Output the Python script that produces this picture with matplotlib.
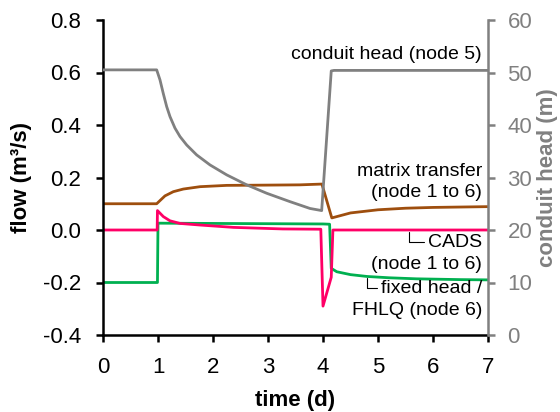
import numpy as np
import matplotlib.pyplot as plt

plt.rcParams['font.family'] = ['Liberation Sans', 'DejaVu Sans']
plt.rcParams['axes.unicode_minus'] = False

# conduit head (node 5), m  -> right axis
head_t = [0, 0.976, 1.036, 1.096, 1.158, 1.218, 1.309, 1.40, 1.521, 1.703, 1.945,
          2.249, 2.613, 2.976, 3.40, 3.764, 3.976, 4.15, 4.2, 7.0]
head_m = [50.5, 50.5, 48.6, 46.0, 43.5, 41.6, 39.4, 37.8, 36.2, 34.3, 32.4,
          30.5, 28.6, 27.0, 25.4, 24.1, 23.7, 50.3, 50.4, 50.4]

# matrix transfer (node 1 to 6), m3/s
mt_t = [0, 0.976, 1.036, 1.127, 1.279, 1.46, 1.764, 2.25, 2.98, 3.58, 3.98,
        4.16, 4.5, 5.0, 5.5, 6.0, 7.0]
mt_q = [0.1, 0.1, 0.112, 0.130, 0.146, 0.156, 0.165, 0.170, 0.171, 0.172, 0.175,
        0.046, 0.065, 0.077, 0.083, 0.086, 0.089]

# CADS (node 1 to 6)
cads_t = [0, 0.985, 0.99, 1.097, 1.218, 1.40, 1.76, 2.37, 3.27, 3.96, 4.0, 4.15, 4.18, 7.0]
cads_q = [0, 0, 0.074, 0.051, 0.035, 0.025, 0.019, 0.010, 0.004, 0.003, -0.29, -0.18, 0.0, 0.0]

# fixed head / FHLQ (node 6)
fh_t = [0, 0.99, 1.0, 2.0, 3.0, 4.0, 4.12, 4.15, 4.25, 4.5, 4.8, 5.2, 5.7, 6.5, 7.0]
fh_q = [-0.2, -0.2, 0.026, 0.025, 0.024, 0.023, 0.022, -0.146, -0.159, -0.170, -0.177, -0.182, -0.186, -0.189, -0.19]

days = [0, 1, 2, 3, 4, 5, 6, 7]
flow_ticks = [-0.4, -0.2, 0.0, 0.2, 0.4, 0.6, 0.8]
head_ticks = [0, 10, 20, 30, 40, 50, 60]

grey = '#808080'

fig = plt.figure(figsize=(5.6, 4.12), dpi=100)
ax = fig.add_axes([103/560, 1-335/412, 385/560, 315/412])
ax2 = ax.twinx()

ax.plot(fh_t, fh_q, color='#00B050', lw=2)
ax.plot(cads_t, cads_q, color='#FF0066', lw=2)
ax.plot(mt_t, mt_q, color='#9E4E0E', lw=2)
ax2.plot(head_t, head_m, color=grey, lw=2)

ax.set_xlim(0, 7)
ax.set_ylim(-0.4, 0.8)
ax2.set_ylim(0, 60)
ax.set_xticks(days)
ax.set_yticks(flow_ticks)
ax.set_yticklabels([f'{v:.1f}' for v in flow_ticks])
ax2.set_yticks(head_ticks)

for s in ['top', 'right']:
    ax.spines[s].set_visible(False)
for s in ['top', 'left', 'bottom']:
    ax2.spines[s].set_visible(False)
ax.spines['left'].set_linewidth(1.8)
ax.spines['bottom'].set_linewidth(1.8)
ax2.spines['right'].set_linewidth(1.8)
ax2.spines['right'].set_color(grey)

ax.tick_params(axis='y', direction='out', length=5, width=1.8, labelsize=16, pad=11)
ax.tick_params(axis='x', direction='out', length=5, width=1.8, labelsize=16, pad=11)
ax2.tick_params(axis='y', direction='out', length=5, width=1.8, labelsize=16, pad=9,
                colors=grey)

ax.set_ylabel('flow (m³/s)', fontsize=16, fontweight='bold')
ax.yaxis.set_label_coords(-0.185, 0.5)
ax.set_xlabel('time (d)', fontsize=16, fontweight='bold')
ax.xaxis.set_label_coords(0.5, -0.175)
ax2.set_ylabel('conduit head (m)', fontsize=16, fontweight='bold', color=grey)
ax2.yaxis.set_label_coords(1.128, 0.5)

fs = 14
ax.text(6.89, 0.667, 'conduit head (node 5)', ha='right', va='center', fontsize=fs)
ax.text(6.89, 0.221, 'matrix transfer', ha='right', va='center', fontsize=fs)
ax.text(6.89, 0.141, '(node 1 to 6)', ha='right', va='center', fontsize=fs)
leader = dict(arrowstyle='-', lw=0.8, color='black', shrinkA=1, shrinkB=0,
              connectionstyle='angle,angleA=0,angleB=90,rad=0', relpos=(0, 0.5))
ax.annotate('CADS', xy=(5.56, -0.006), xytext=(6.89, -0.046), ha='right', va='center',
            fontsize=fs, arrowprops=leader)
ax.text(6.89, -0.133, '(node 1 to 6)', ha='right', va='center', fontsize=fs)
ax.annotate('fixed head /', xy=(4.8, -0.183), xytext=(6.89, -0.221), ha='right', va='center',
            fontsize=fs, arrowprops=leader)
ax.text(6.89, -0.305, 'FHLQ (node 6)', ha='right', va='center', fontsize=fs)

plt.savefig('out.png', dpi=100)
